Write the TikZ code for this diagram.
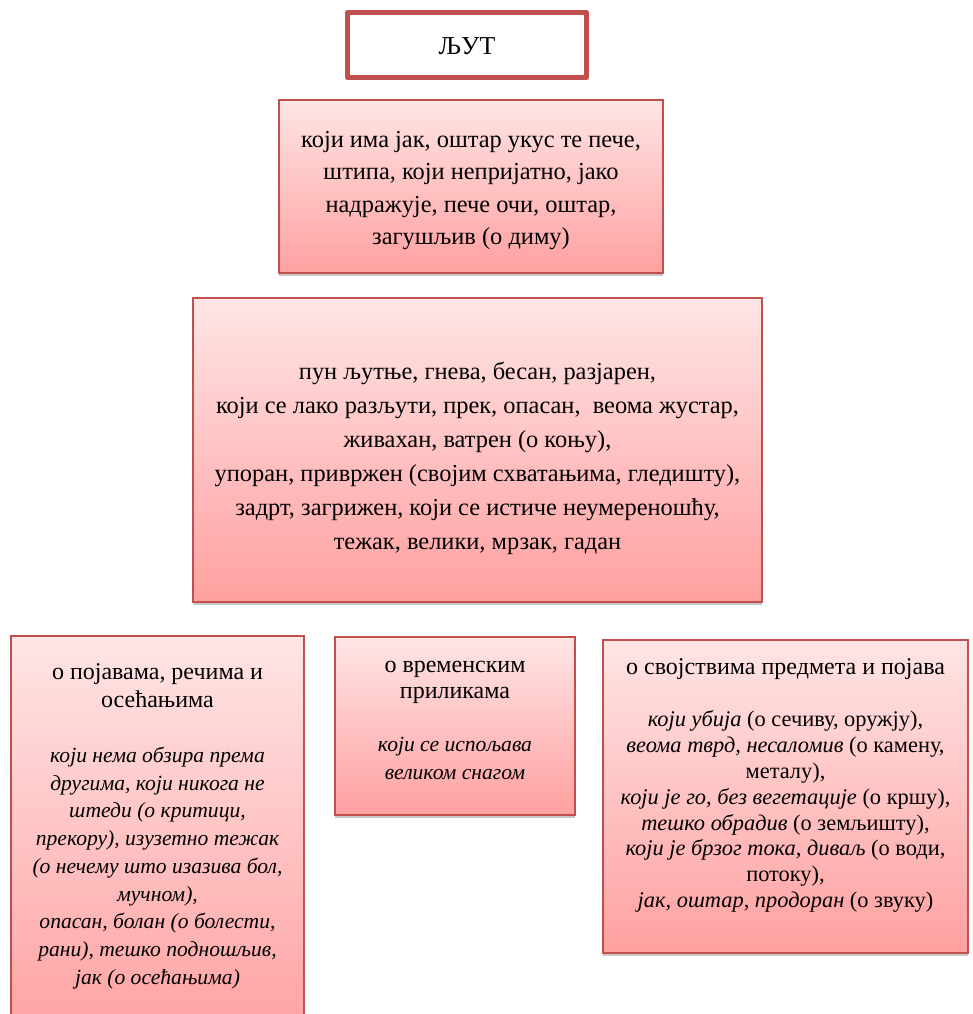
\documentclass[tikz,border=0pt]{standalone}
\usepackage{fontspec}
\setmainfont{Liberation Serif}
\usetikzlibrary{shadows}
\definecolor{bred}{HTML}{C0504D}
\definecolor{ptop}{RGB}{255,229,229}
\definecolor{pbot}{RGB}{255,160,160}
\tikzset{
  pinkbox/.style={rectangle, draw=bred, line width=1.3pt, top color=ptop, bottom color=pbot, inner sep=0pt,
    drop shadow={shadow xshift=0pt, shadow yshift=-3pt, opacity=0.3, fill=black!70}},
  titlebox/.style={rectangle, draw=bred, line width=5pt, fill=white, inner sep=0pt, line join=round},
  bigtext/.style={align=center, inner sep=0pt, font=\fontsize{24.4}{32.5}\selectfont},
  midtext/.style={align=center, inner sep=0pt, font=\fontsize{24.4}{34}\selectfont},
  hdtext/.style={align=center, inner sep=0pt, font=\fontsize{24}{28}\selectfont},
  ittext/.style={align=center, inner sep=0pt, font=\fontsize{21.6}{27.75}\selectfont\itshape},
  rttext/.style={align=center, inner sep=0pt, font=\fontsize{22.4}{25.8}\selectfont},
}
\begin{document}
\begin{tikzpicture}[x=1pt, y=-1pt]
\clip (0,0) rectangle (973,1014);
\fill[white] (0,0) rectangle (973,1014);

\node[titlebox, minimum width=239pt, minimum height=65pt] (top) at (467,45) {};
\node[font=\fontsize{25.8}{28}\selectfont, inner sep=0pt] (toptxt) at (467,46) {ЉУТ};

\node[pinkbox, minimum width=384pt, minimum height=173pt] (b1) at (471,186.5) {};
\node[bigtext] (b1txt) at (471,190.5) {који има јак, оштар укус те пече,\\ штипа, који непријатно, јако\\ надражује, пече очи, оштар,\\ загушљив (о диму)};

\node[pinkbox, minimum width=569pt, minimum height=304pt] (b2) at (477.5,450) {};
\node[midtext] (b2txt) at (477.5,458.5) {пун љутње, гнева, бесан, разјарен,\\ који се лако разљути, прек, опасан,\ \ веома жустар,\\ живахан, ватрен (о коњу),\\ упоран, привржен (својим схватањима, гледишту),\\ задрт, загрижен, који се истиче неумереношћу,\\ тежак, велики, мрзак, гадан};

\node[pinkbox, minimum width=293pt, minimum height=410pt] (c1) at (157.5,841) {};
\node[hdtext] (c1h) at (157.5,686) {о појавама, речима и\\ осећањима};
\node[ittext] (c1t) at (157.5,868) {који нема обзира према\\ другима, који никога не\\ штеди (о критици,\\ прекору), изузетно тежак\\ (о нечему што изазива бол,\\ мучном),\\ опасан, болан (о болести,\\ рани), тешко подношљив,\\ јак (о осећањима)};

\node[pinkbox, minimum width=240pt, minimum height=178pt] (c2) at (455,726) {};
\node[hdtext, font=\fontsize{24}{26}\selectfont] (c2h) at (455,682) {о временским\\ приликама};
\node[ittext, font=\fontsize{21.6}{28}\selectfont\itshape] (c2t) at (455,758) {који се испољава\\ великом снагом};

\node[pinkbox, minimum width=365pt, minimum height=313pt] (c3) at (785.5,796.5) {};
\node[hdtext] (c3h) at (785.5,669) {о својствима предмета и појава};
\node[rttext] (c3t) at (785.5,811.5) {\textit{који убија} (о сечиву, оружју),\\ \textit{веома тврд, несаломив} (о камену,\\ металу),\\ \textit{који је го, без вегетације} (о кршу),\\ \textit{тешко обрадив} (о земљишту),\\ \textit{који је брзог тока, диваљ} (о води,\\ потоку),\\ \textit{јак, оштар, продоран} (о звуку)};
\end{tikzpicture}
\end{document}
